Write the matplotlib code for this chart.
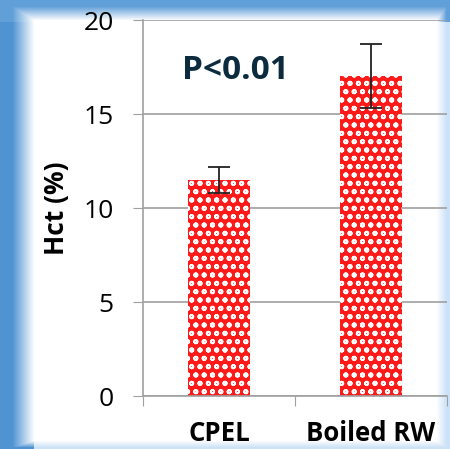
import numpy as np
import matplotlib
matplotlib.use("Agg")
import matplotlib.pyplot as plt

plt.rcParams['font.family'] = ['Open Sans', 'DejaVu Sans']
plt.rcParams['hatch.linewidth'] = 1.3

groups = ["CPEL", "Boiled RW"]
hct = [11.5, 17.0]
hct_err = [0.7, 1.7]

fig = plt.figure(figsize=(4.5, 4.49), dpi=100)

# blue framed background with soft shadow
bg = fig.add_axes([0, 0, 1, 1])
h, w = 449, 450
yy, xx = np.mgrid[0:h, 0:w]
blue = np.array([0.31, 0.58, 0.83])
light = np.array([0.80, 0.89, 0.97])
left = np.clip((xx - 12) / 22.0, 0, 1)
top = np.clip((yy - 6) / 14.0, 0, 1)
right = np.clip((446 - xx) / 10.0, 0, 1)
bottom = np.clip((447 - yy) / 7.0, 0, 1)
a = np.minimum(np.minimum(left, top), np.minimum(right, bottom))[..., None]
edge = np.where((xx < 34)[..., None], blue, light)
edge = np.where((yy < 22)[..., None], blue * 0.85 + light * 0.15, edge)
img = edge * (1 - a) + np.ones((h, w, 3)) * a
bg.imshow(img, aspect='auto', extent=[0, 1, 0, 1])
bg.axis('off')

ax = fig.add_axes([143 / 450, 1 - 396 / 449, 304 / 450, 376 / 449])
ax.set_facecolor('none')
x = np.arange(len(groups))
ax.bar(x, hct, width=0.41, color='#ff1a1a', edgecolor='white', hatch='oo',
       linewidth=0, zorder=2)
ax.errorbar(x, hct, yerr=hct_err, fmt='none', ecolor='#222222', elinewidth=1.3,
            capsize=8, capthick=1.3, zorder=3)

ax.set_xlim(-0.5, 1.5)
ax.set_ylim(0, 20)
ax.set_yticks([0, 5, 10, 15, 20])
ax.yaxis.grid(True, color='#a0a0a0', linewidth=1.2, zorder=0)
ax.set_axisbelow(True)
for s in ['top', 'right']:
    ax.spines[s].set_visible(False)
ax.spines['left'].set_color('#a0a0a0')
ax.spines['bottom'].set_color('#a0a0a0')
ax.spines['left'].set_linewidth(1.2)
ax.spines['bottom'].set_linewidth(1.2)
ax.tick_params(axis='y', length=7, color='#a0a0a0', labelsize=19, pad=14)
ax.set_xticks([-0.5, 0.5, 1.5])
ax.set_xticklabels([])
ax.set_xticks(x, minor=True)
ax.set_xticklabels(groups, minor=True, fontsize=18.5, fontweight='bold')
ax.tick_params(axis='x', which='major', length=7, color='#a0a0a0')
ax.tick_params(axis='x', which='minor', length=0, pad=17)
ax.set_ylabel("Hct (%)", fontsize=19, fontweight='bold')
ax.yaxis.set_label_coords(-0.24, 0.5)

ax.text(0.105, 17.34, "P<0.01", fontsize=24, fontweight='bold', color='#0d2b3e',
        ha='center', va='center')

fig.savefig("out.png", dpi=100)
